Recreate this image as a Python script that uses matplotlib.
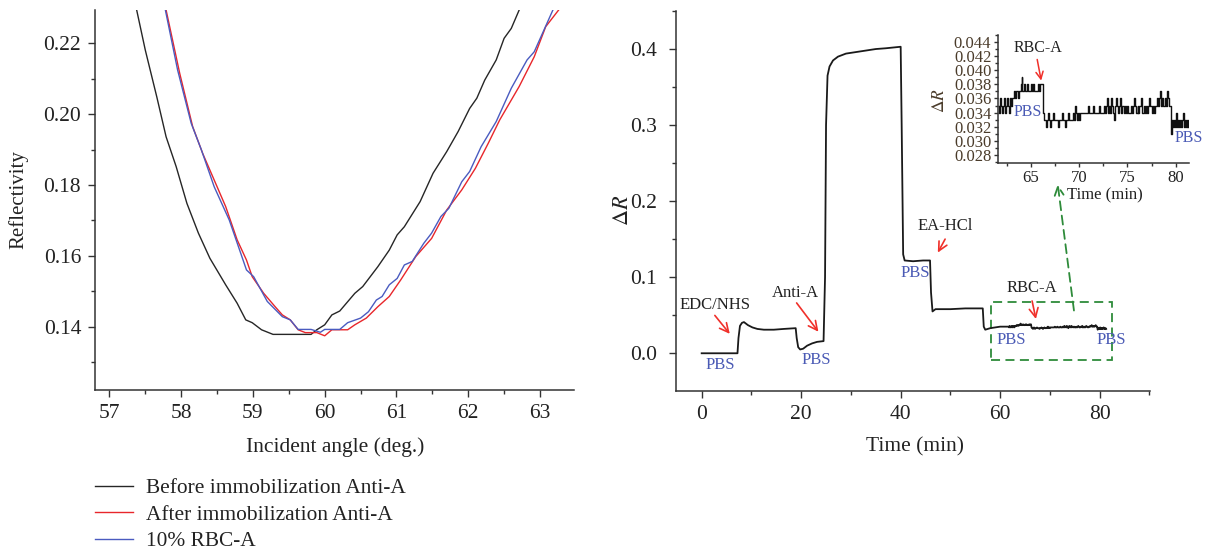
import numpy as np
import matplotlib
matplotlib.use("Agg")
import matplotlib.pyplot as plt
from matplotlib.lines import Line2D
from matplotlib.patches import Rectangle
from matplotlib.ticker import MultipleLocator, FormatStrFormatter

plt.rcParams["font.family"] = ["Liberation Serif", "DejaVu Serif"]
plt.rcParams["mathtext.fontset"] = "stix"

# ---------------- SPR angular curves ----------------
before_angle = [57.38, 57.50, 57.66, 57.79, 57.93, 58.08, 58.24, 58.40, 58.62, 58.78,
                58.90, 58.99, 59.12, 59.28, 59.81, 59.89, 60.00, 60.10, 60.21, 60.42,
                60.53, 60.74, 60.90, 61.01, 61.11, 61.33, 61.51, 61.70, 61.86, 62.02,
                62.12, 62.23, 62.39, 62.50, 62.60, 62.71]
before_refl = [0.2294, 0.2181, 0.2049, 0.1936, 0.1852, 0.1748, 0.1664, 0.1593, 0.1518, 0.1466,
               0.1419, 0.1411, 0.1391, 0.1378, 0.1378, 0.1391, 0.1405, 0.1433, 0.1444, 0.1494,
               0.1513, 0.1569, 0.1616, 0.1659, 0.1682, 0.1753, 0.1833, 0.1894, 0.1951, 0.2016,
               0.2045, 0.2096, 0.2153, 0.2214, 0.2242, 0.2294]

after_angle = [57.79, 57.98, 58.16, 58.30, 58.46, 58.62, 58.78, 58.91, 58.99, 59.15,
               59.31, 59.41, 59.52, 59.63, 59.73, 59.89, 60.00, 60.10, 60.32, 60.42,
               60.58, 60.74, 60.90, 61.06, 61.27, 61.49, 61.70, 61.91, 62.10, 62.28,
               62.44, 62.71, 62.92, 63.08, 63.26]
after_refl = [0.2294, 0.2115, 0.1965, 0.1889, 0.1814, 0.1739, 0.1645, 0.1588, 0.1541, 0.1494,
              0.1456, 0.1433, 0.1419, 0.1391, 0.1383, 0.1383, 0.1374, 0.1391, 0.1391, 0.1405,
              0.1424, 0.1456, 0.1485, 0.1532, 0.1598, 0.1649, 0.1729, 0.1786, 0.1847, 0.1918,
              0.1984, 0.2078, 0.2162, 0.2247, 0.2294]

rbc_angle = [57.78, 57.95, 58.14, 58.28, 58.46, 58.67, 58.91, 59.01, 59.20, 59.41,
             59.52, 59.63, 59.81, 59.94, 60.00, 60.21, 60.32, 60.50, 60.61, 60.72,
             60.80, 60.90, 61.01, 61.11, 61.22, 61.38, 61.49, 61.62, 61.73, 61.91,
             62.02, 62.18, 62.39, 62.60, 62.82, 62.92, 63.18]
rbc_refl = [0.2294, 0.2125, 0.1974, 0.1900, 0.1795, 0.1701, 0.1560, 0.1541, 0.1471, 0.1428,
            0.1419, 0.1392, 0.1392, 0.1384, 0.1392, 0.1392, 0.1411, 0.1424, 0.1442, 0.1475,
            0.1485, 0.1518, 0.1536, 0.1574, 0.1584, 0.1635, 0.1664, 0.1711, 0.1734, 0.1809,
            0.1838, 0.1908, 0.1979, 0.2073, 0.2153, 0.2176, 0.2294]

curve_labels = ["Before immobilization Anti-A", "After immobilization Anti-A", "10% RBC-A"]
curve_colors = ["#262626", "#e8262b", "#4a5bc0"]

# ---------------- Sensorgram ----------------
sens_time = [0, 7.2, 7.4, 7.7, 8.1, 8.5, 9.3, 10.2, 11.2, 12.5, 14.5, 16.5, 18.9,
             19.1, 19.4, 19.8, 20.4, 21.2, 22.2, 23.2, 24.5, 24.8, 25.0, 25.3, 25.7,
             26.4, 27.4, 29.0, 31.0, 33.0, 35.0, 37.0, 40.0, 40.2, 40.5, 40.8, 42.5,
             44.5, 45.9, 46.1, 46.4, 47.0, 50.0, 53.0, 56.5, 56.7, 57.0, 58.0, 60.0,
             61.6]
sens_value = [0.000, 0.000, 0.020, 0.036, 0.040, 0.041, 0.037, 0.034, 0.032, 0.031,
              0.031, 0.032, 0.033, 0.020, 0.008, 0.005, 0.006, 0.010, 0.013, 0.015,
              0.016, 0.100, 0.300, 0.365, 0.377, 0.385, 0.390, 0.394, 0.396, 0.398,
              0.400, 0.401, 0.403, 0.300, 0.130, 0.122, 0.121, 0.122, 0.122, 0.080,
              0.055, 0.058, 0.058, 0.059, 0.059, 0.035, 0.031, 0.033, 0.035, 0.035]

# Zoomed segment, sampled every 0.1 min from 61.7 min (units of 0.001)
zoom_start = 61.7
zoom_value_milli = [
    35, 34, 36, 35, 34, 35, 36, 34, 35, 36, 35, 34, 36, 35, 36,
    36, 37, 36, 37, 37, 36, 37,
    37, 38, 39, 37, 37, 38, 37, 37, 38, 37, 37, 37, 38, 37, 38, 37, 37, 37, 37, 38, 37,
    38, 38, 38,
    34, 33,
    33, 32, 33, 34, 33, 32, 33, 33, 33, 34, 33, 33, 33, 33, 32, 33, 33, 33, 34, 33, 33,
    32, 33, 33, 34, 33, 33, 33, 33, 34, 33, 35, 34, 33, 34, 33, 34, 34, 34, 34, 34, 34, 34,
    34, 34, 35, 34, 34, 34, 34, 35, 34, 34, 34, 34, 34, 35, 34, 34, 34,
    34, 35, 34, 35, 36, 34, 35, 35, 34, 36, 35, 34, 33, 35, 36, 35, 34, 35, 36, 34, 35, 35,
    34, 35, 34, 35, 34, 34,
    34, 35, 34, 35, 36, 35, 34, 34, 35, 34, 35, 35, 36, 34, 34, 35, 34, 35, 34, 35, 36, 35,
    35, 34, 35, 34, 35,
    35, 36, 35, 36, 37, 35, 36, 35, 35, 36, 35, 36, 37, 36, 35, 35,
    31, 33, 32, 33, 32, 34, 32, 33, 32, 33, 32, 33, 34, 32, 33, 32, 33, 32,
]

zoom_value = np.array(zoom_value_milli) / 1000.0
zoom_time = np.round(zoom_start + 0.1 * np.arange(len(zoom_value)), 1)

full_time = np.concatenate([sens_time, zoom_time])
full_value = np.concatenate([sens_value, zoom_value])

TXT = "#222222"
RED = "#f0302a"
BLUE = "#4a5ab5"
GREEN = "#2e8b3a"
INSET_TXT = "#4a3b2a"

fig = plt.figure(figsize=(12.17, 5.53), dpi=100)


def style_axes(ax, size):
    for side in ("top", "right"):
        ax.spines[side].set_visible(False)
    for side in ("left", "bottom"):
        ax.spines[side].set_linewidth(1.1)
        ax.spines[side].set_color("#333333")
    ax.tick_params(which="major", direction="out", length=5, width=1.0,
                   color="#333333", labelsize=size, labelcolor=TXT)
    ax.tick_params(which="minor", direction="out", length=3, width=1.0,
                   color="#333333")


def place_labels(ax, xpos, ypos):
    ax.xaxis.label.set_va("center")
    ax.yaxis.label.set_va("center")
    ax.xaxis.set_label_coords(*xpos)
    ax.yaxis.set_label_coords(*ypos)


# ---- left panel ----
ax1 = fig.add_axes([0.0781, 0.2948, 0.3939, 0.6871])
for xs, ys, c, lab in zip([before_angle, after_angle, rbc_angle],
                          [before_refl, after_refl, rbc_refl],
                          curve_colors, curve_labels):
    ax1.plot(xs, ys, color=c, lw=1.0, label=lab)
ax1.set_xlim(56.8, 63.48)
ax1.set_ylim(0.1221, 0.2294)
ax1.xaxis.set_major_locator(MultipleLocator(1))
ax1.xaxis.set_minor_locator(MultipleLocator(0.5))
ax1.yaxis.set_major_locator(MultipleLocator(0.02))
ax1.yaxis.set_minor_locator(MultipleLocator(0.01))
ax1.yaxis.set_major_formatter(FormatStrFormatter("%.2f"))
style_axes(ax1, 15.5)
ax1.tick_params(which="major", pad=5)
ax1.set_xlabel("Incident angle (deg.)", fontsize=15.5, color=TXT)
ax1.set_ylabel("Reflectivity", fontsize=15, color=TXT)
place_labels(ax1, (0.5, -0.15), (-0.159, 0.5))

handles = [Line2D([], [], color=c, lw=1.0) for c in curve_colors]
fig.legend(handles, curve_labels, loc="upper left", bbox_to_anchor=(0.078, 0.135),
           frameon=False, fontsize=15.4, handlelength=1.8, handletextpad=0.6,
           labelspacing=0.3, borderpad=0, borderaxespad=0, labelcolor=TXT)

# ---- right panel ----
ax2 = fig.add_axes([0.5557, 0.2935, 0.3896, 0.6866])
ax2.plot(full_time, full_value, color="#1a1a1a", lw=1.3)
ax2.set_xlim(-5.1, 90.2)
ax2.set_ylim(-0.0492, 0.45)
ax2.xaxis.set_major_locator(MultipleLocator(20))
ax2.xaxis.set_minor_locator(MultipleLocator(10))
ax2.yaxis.set_major_locator(MultipleLocator(0.1))
ax2.yaxis.set_minor_locator(MultipleLocator(0.05))
ax2.yaxis.set_major_formatter(FormatStrFormatter("%.1f"))
style_axes(ax2, 15.5)
ax2.tick_params(axis="y", which="major", pad=9)
ax2.tick_params(axis="x", which="major", pad=5)
ax2.set_xlabel("Time (min)", fontsize=15.5, color=TXT)
ax2.set_ylabel(r"$\Delta R$", fontsize=16, color=TXT)
place_labels(ax2, (0.503, -0.148), (-0.112, 0.476))

arrow_kw = dict(arrowstyle="->", color=RED, lw=1.2, mutation_scale=16)
notes = [("EDC/NHS", (2.7, 0.064), (2.3, 0.0526), (6.0, 0.0227)),
         ("Anti-A", (18.75, 0.0797), (18.75, 0.0691), (23.8, 0.0254)),
         ("EA-HCl", (48.9, 0.1673), (49.2, 0.1533), (47.2, 0.1292)),
         ("RBC-A", (66.3, 0.0854), (66.3, 0.0723), (67.3, 0.0415))]
for label, txy, start, end in notes:
    ax2.text(*txy, label, fontsize=12, color=TXT, ha="center", va="center")
    ax2.annotate("", xy=end, xytext=start, arrowprops=arrow_kw)

for pos in [(3.7, -0.0154), (23.0, -0.0088), (42.9, 0.1052), (62.3, 0.0175), (82.4, 0.0175)]:
    ax2.text(*pos, "PBS", fontsize=12, color=BLUE, ha="center", va="center")

ax2.add_patch(Rectangle((58.1, -0.0088), 24.4, 0.0759, fill=False, ec=GREEN,
                        lw=1.3, ls=(0, (5, 3))))
ax2.annotate("", xy=(71.5, 0.2256), xytext=(74.9, 0.0526),
             arrowprops=dict(arrowstyle="->", color=GREEN, lw=1.3,
                             ls=(0, (5, 3)), mutation_scale=16))

# ---- inset ----
ax3 = fig.add_axes([0.8203, 0.7058, 0.1569, 0.2309])
ax3.plot(zoom_time, zoom_value, color="#111111", lw=1.0, drawstyle="steps-mid")
ax3.set_xlim(61.65, 81.4)
ax3.set_ylim(0.0269, 0.045)
ax3.xaxis.set_major_locator(MultipleLocator(5))
ax3.xaxis.set_minor_locator(MultipleLocator(2.5))
ax3.yaxis.set_major_locator(MultipleLocator(0.002))
ax3.yaxis.set_minor_locator(MultipleLocator(0.001))
ax3.yaxis.set_major_formatter(FormatStrFormatter("%.3f"))
style_axes(ax3, 12)
ax3.tick_params(which="major", length=3, pad=2)
ax3.tick_params(which="minor", length=2)
ax3.tick_params(axis="y", labelcolor=INSET_TXT)
ax3.set_xlabel("Time (min)", fontsize=12, color=TXT)
ax3.set_ylabel(r"$\Delta R$", fontsize=12.5, color=INSET_TXT)
place_labels(ax3, (0.559, -0.253), (-0.305, 0.49))
ax3.text(65.72, 0.04311, "RBC-A", fontsize=11.5, color=TXT, ha="center", va="center")
ax3.annotate("", xy=(66.14, 0.03815), xytext=(65.62, 0.04192),
             arrowprops=dict(arrowstyle="->", color=RED, lw=1.1, mutation_scale=13))
ax3.text(64.65, 0.03413, "PBS", fontsize=11.5, color=BLUE, ha="center", va="center")
ax3.text(81.3, 0.03036, "PBS", fontsize=11.5, color=BLUE, ha="center", va="center")

fig.savefig("out.png", dpi=100)
